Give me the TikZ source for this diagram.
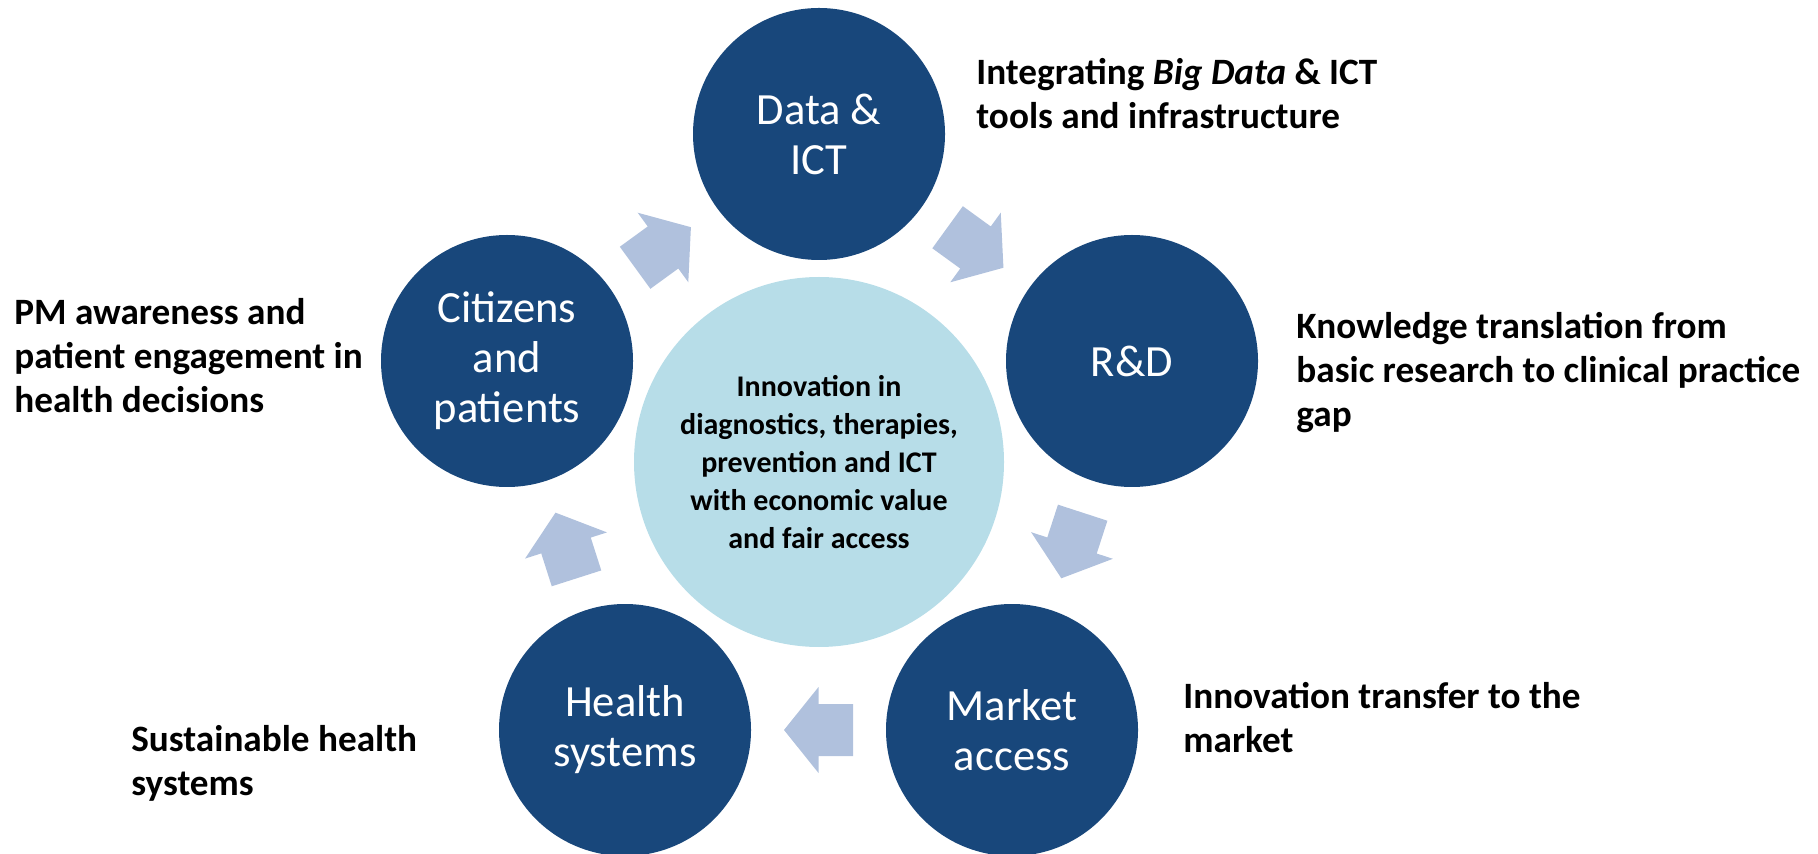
\documentclass[tikz,border=0pt]{standalone}
\usepackage{fontspec}
\setmainfont{Carlito}
\usetikzlibrary{positioning, calc}
\definecolor{stageblue}{RGB}{24,71,123}
\definecolor{hubblue}{RGB}{183,221,232}
\definecolor{flowblue}{RGB}{176,193,221}
\tikzset{
%block arrow between two stages, pointing along the path
cyclearrow/.pic={
\fill[flowblue] (-34.5,-26) -- (0,-26) -- (0,-43) -- (34.5,0) -- (0,43) -- (0,26) -- (-34.5,26) -- cycle;
}
}

\begin{document}
\begin{tikzpicture}[x=0.5pt, y=-0.5pt,
			stage/.style = {circle, fill=stageblue, text=white, minimum size=126pt, inner sep=0pt, align=center, font=\fontsize{22.3}{25}\selectfont},
			hub/.style = {circle, fill=hubblue, minimum size=185pt, inner sep=0pt, align=center, font=\bfseries\fontsize{15}{19}\selectfont},
			note/.style = {anchor=base west, inner sep=0pt, align=left, font=\bfseries\fontsize{18.6}{22}\selectfont},
		]
		\useasboundingbox (0,0) rectangle (1818,854);

		\node[hub](hub) at (819,462){Innovation in\\diagnostics, therapies,\\prevention and ICT\\with economic value\\and fair access};

		\node[stage](data) at (819,134){Data \&\\ICT};
		\node[stage](rd) at (1132,361){R\&D};
		\node[stage](market) at (1012,730){Market\\access};
		\node[stage](health) at (625,730){Health\\systems};
		\node[stage](citizens) at (507,361){Citizens\\and\\patients};

		\path(data)--pic[pos=0.5, sloped, allow upside down]{cyclearrow}(rd);
		\path(rd)--pic[pos=0.5, sloped, allow upside down]{cyclearrow}(market);
		\path(market)--pic[pos=0.5, sloped, allow upside down]{cyclearrow}(health);
		\path(health)--pic[pos=0.5, sloped, allow upside down]{cyclearrow}(citizens);
		\path(citizens)--pic[pos=0.5, sloped, allow upside down]{cyclearrow}(data);

		% base of each note is its last line
		\node[note](datanote) at (976,129){Integrating \textit{Big Data} \& ICT\\tools and infrastructure};
		\node[note](rdnote) at (1296,427){Knowledge translation from\\basic research to clinical practice\\gap};
		\node[note](marketnote) at (1183,752){Innovation transfer to the\\market};
		\node[note](healthnote) at (131,795){Sustainable health\\systems};
		\node[note](citizensnote) at (14,413){PM awareness and\\patient engagement in\\health decisions};

	\end{tikzpicture}
\end{document}
